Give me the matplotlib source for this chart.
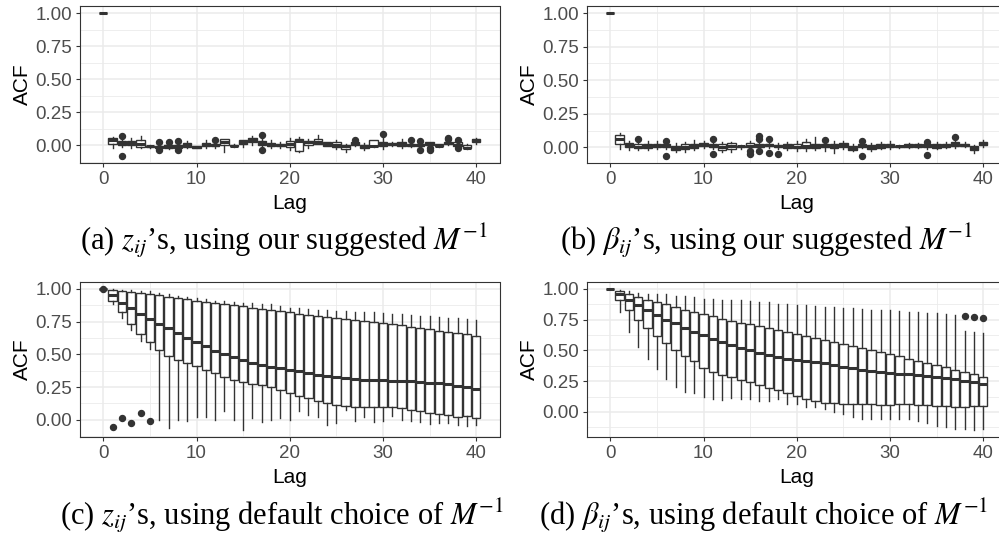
import matplotlib

matplotlib.use("Agg")

import matplotlib.pyplot as plt
from matplotlib.ticker import FixedLocator

plt.rcParams["font.family"] = ["Liberation Sans", "DejaVu Sans"]
plt.rcParams["mathtext.fontset"] = "stix"

LAGS = list(range(41))

# (a) z_ij, suggested M^-1
A_Q1 = [1, .01, .0, .0, -.015, -.015, -.02, -.02, -.02, -.015, -.02, -.01, -.005, .0, -.01, .005, .02, .0, -.005, -.005,
        -.015, -.045, .0, .01, -.005, -.015, -.03, .0, -.025, -.01, -.005, .0, -.01, -.005, -.01, .0, -.01, .005, -.01, -.025, .025]
A_MED = [1, .035, .015, .015, .01, -.01, -.012, -.01, -.01, .0, -.015, .0, .0, .02, -.005, .02, .04, .015, .0, -.002,
         .005, .03, .02, .02, .008, .0, -.01, .005, -.01, -.005, .01, .005, .01, .0, .0, .01, -.005, .015, .0, -.02, .035]
A_Q3 = [1, .055, .03, .03, .04, -.008, -.005, .0, .0, .015, -.01, .012, .005, .045, .0, .035, .055, .03, .015, .005,
        .03, .045, .03, .045, .02, .02, .0, .02, .0, .035, .025, .015, .025, .01, .01, .02, .005, .025, .02, .0, .045]
A_LO = [1, -.02, -.015, -.02, -.02, -.02, -.03, -.03, -.035, -.025, -.025, -.025, -.02, -.055, -.015, -.015, .0, -.01, -.025, -.02,
        -.04, -.05, -.025, .01, -.01, -.03, -.055, -.005, -.04, -.015, -.03, -.005, -.025, -.015, -.02, -.005, -.015, .0, -.02, -.03, .01]
A_HI = [1, .06, .045, .05, .065, -.003, .005, .01, .01, .03, -.005, .035, .01, .045, .005, .04, .07, .05, .035, .02,
        .055, .06, .045, .075, .025, .04, .01, .025, .015, .04, .05, .02, .045, .02, .02, .025, .01, .03, .03, .005, .05]
A_FLIERS = {2: [.07, -.082], 6: [.022, -.035], 7: [.025], 8: [.03, -.035], 12: [.038], 17: [.075, -.04],
            27: [.04], 30: [.087], 33: [.038], 34: [.03, -.035], 35: [-.02, -.035], 37: [.055, .045], 38: [.035, -.02]}

# (b) beta_ij, suggested M^-1
B_Q1 = [1, .025, .005, -.005, -.003, .003, .003, -.018, -.013, -.008, .008, .003, -.018, -.013, .0, .003, .005, .008, .003, -.003,
        -.008, -.008, -.008, .003, -.008, .003, -.023, .003, -.013, -.008, .003, .003, .003, .003, .003, -.003, .003, .008, .008, -.018, .018]
B_MED = [1, .06, .015, .005, .013, .013, .008, -.005, .003, .008, .02, .013, .003, .008, .008, .013, .013, .015, .008, .008,
         .003, .013, .008, .013, .008, .018, -.003, .01, .003, .008, .013, .008, .013, .013, .013, .013, .013, .023, .018, -.003, .028]
B_Q3 = [1, .09, .03, .025, .023, .028, .023, .013, .023, .023, .033, .023, .023, .033, .013, .03, .028, .028, .018, .023,
        .028, .043, .028, .023, .028, .033, .013, .023, .018, .023, .028, .013, .023, .023, .023, .028, .028, .038, .028, .008, .043]
B_LO = [1, -.01, -.02, -.018, -.018, -.013, -.01, -.038, -.033, -.018, -.008, -.01, -.035, -.038, -.01, -.02, -.01, -.005, -.013, -.018,
        -.03, -.03, -.02, -.028, -.04, -.01, -.03, -.005, -.028, -.015, -.01, -.003, -.008, -.005, -.013, -.01, -.003, -.003, .0, -.04, .005]
B_HI = [1, .11, .05, .04, .048, .048, .04, .033, .038, .053, .048, .035, .038, .043, .02, .045, .04, .04, .035, .04,
        .05, .06, .08, .04, .045, .045, .025, .035, .03, .04, .045, .02, .03, .03, .035, .04, .038, .05, .04, .015, .055]
B_FLIERS = {3: [.06], 6: [.05, -.064], 11: [.065, -.048], 15: [-.03, -.048], 16: [.085, .06, -.028], 17: [.06, -.045],
            18: [-.048], 23: [.053], 27: [.05, -.064], 34: [.04, -.055], 37: [.075]}

# (c) z_ij, default M^-1
C_Q1 = [1, .91, .82, .73, .655, .59, .535, .49, .46, .434, .41, .38, .357, .33, .306, .286, .273, .263, .247, .23,
        .204, .18, .163, .145, .13, .115, .105, .094, .094, .097, .10, .10, .09, .077, .069, .05, .043, .036, .023, .03, .015]
C_MED = [1, .95, .895, .85, .81, .77, .73, .697, .66, .622, .59, .56, .528, .505, .48, .457, .434, .418, .403, .393,
         .383, .37, .355, .344, .334, .324, .316, .309, .304, .301, .30, .298, .296, .293, .288, .283, .278, .27, .258, .247, .232]
C_Q3 = [1, .99, .98, .975, .97, .96, .95, .94, .93, .92, .91, .90, .895, .885, .875, .867, .852, .844, .837, .827,
        .82, .81, .80, .793, .786, .778, .768, .76, .755, .745, .737, .73, .72, .71, .70, .69, .68, .673, .663, .653, .64]
C_LO = [1, .885, .78, .686, .605, .54, -.005, -.064, .0, -.013, .02, .018, .0, .064, .0, -.08, .01, -.02, .0, .013,
        .0, .07, .04, .023, -.04, -.026, .074, -.013, .018, -.015, -.008, .028, .0, -.013, -.02, -.033, -.028, -.028, -.043, -.048, -.038]
C_HI = [1, .995, .99, .99, .985, .98, .965, .96, .945, .94, .93, .92, .91, .905, .90, .895, .89, .885, .88, .87,
        .857, .85, .845, .84, .835, .83, .83, .825, .82, .82, .815, .81, .805, .80, .795, .79, .785, .78, .775, .77, .763]
C_FLIERS = {0: [1.0], 1: [-.054], 2: [.015], 3: [-.028], 4: [.048], 5: [-.008]}

# (d) beta_ij, default M^-1
D_Q1 = [1, .905, .83, .748, .68, .618, .56, .507, .455, .41, .358, .322, .30, .28, .26, .24, .22, .198, .176, .154,
        .127, .106, .092, .073, .07, .065, .065, .065, .062, .06, .06, .062, .062, .057, .054, .05, .046, .038, .043, .05, .05]
D_MED = [1, .954, .91, .865, .827, .79, .75, .72, .683, .653, .626, .596, .572, .547, .52, .50, .482, .463, .444, .43,
         .423, .415, .406, .396, .382, .369, .358, .344, .336, .325, .32, .312, .306, .298, .293, .282, .276, .266, .255, .244, .228]
D_Q3 = [1, .98, .957, .935, .91, .89, .873, .854, .83, .81, .794, .775, .756, .737, .724, .715, .70, .683, .667, .65,
        .634, .618, .60, .585, .57, .553, .537, .52, .504, .488, .47, .455, .434, .417, .40, .382, .363, .344, .328, .309, .287]
D_LO = [1, .81, .648, .526, .43, .347, .266, .20, .165, .154, .12, .105, .10, .11, .108, .108, .087, .092, .106, .065,
        .065, .043, .038, .022, -.003, -.02, -.043, -.054, -.06, -.06, -.06, -.06, -.06, -.076, -.087, -.114, -.125, -.138, -.141, -.148, -.141]
D_HI = [1, .99, .985, .965, .96, .96, .955, .945, .94, .935, .92, .915, .91, .91, .905, .90, .895, .89, .88, .875,
        .867, .867, .86, .85, .85, .846, .84, .835, .83, .824, .824, .82, .815, .81, .805, .80, .795, .79, .656, .65, .645]
D_FLIERS = {38: [.783], 39: [.77], 40: [.764]}

X_TICKS = [0, 10, 20, 30, 40]
Y_TICKS = [0.0, 0.25, 0.5, 0.75, 1.0]
Y_TICKLABELS = ["0.00", "0.25", "0.50", "0.75", "1.00"]

CAPTIONS = [
    r"(a) $z_{ij}$’s, using our suggested $M^{-1}$",
    r"(b) $\beta_{ij}$’s, using our suggested $M^{-1}$",
    r"(c) $z_{ij}$’s, using default choice of $M^{-1}$",
    r"(d) $\beta_{ij}$’s, using default choice of $M^{-1}$",
]

INK = "#333333"
GRID = "#EBEBEB"
W, H = 999, 546


def px_axes(fig, left, top, right, bottom):
    return fig.add_axes([left / W, 1 - bottom / H, (right - left) / W, (bottom - top) / H])


def draw_panel(ax, q1, med, q3, lo, hi, fliers):
    stats = []
    for i, lag in enumerate(LAGS):
        stats.append(dict(q1=q1[i], med=med[i], q3=q3[i], whislo=lo[i], whishi=hi[i],
                          fliers=fliers.get(lag, [])))
    ax.bxp(stats, positions=LAGS, widths=0.9, patch_artist=True, showcaps=False,
           manage_ticks=False,
           boxprops=dict(facecolor="white", edgecolor=INK, linewidth=1.0),
           medianprops=dict(color=INK, linewidth=2.2, solid_capstyle="butt"),
           whiskerprops=dict(color=INK, linewidth=1.0),
           flierprops=dict(marker="o", markerfacecolor=INK, markeredgecolor=INK, markersize=4.3))

    # ggplot-style limits: 5% padding around the data range
    ymin = min(lo + [v for vs in fliers.values() for v in vs])
    ymax = max(hi + [v for vs in fliers.values() for v in vs])
    pad = 0.05 * (ymax - ymin)
    ax.set_ylim(ymin - pad, ymax + pad)
    xpad = 0.05 * (LAGS[-1] - LAGS[0] + 0.9)
    ax.set_xlim(LAGS[0] - 0.45 - xpad, LAGS[-1] + 0.45 + xpad)

    ax.xaxis.set_major_locator(FixedLocator(X_TICKS))
    ax.xaxis.set_minor_locator(FixedLocator([5, 15, 25, 35]))
    ax.set_xticklabels([str(t) for t in X_TICKS])
    ax.yaxis.set_major_locator(FixedLocator(Y_TICKS))
    ax.yaxis.set_minor_locator(FixedLocator([-0.125, 0.125, 0.375, 0.625, 0.875]))
    ax.set_yticklabels(Y_TICKLABELS)
    ax.grid(which="major", color=GRID, linewidth=1.1)
    ax.grid(which="minor", color=GRID, linewidth=0.6)
    ax.set_axisbelow(True)
    ax.tick_params(which="major", length=3.2, width=0.8, color=INK, labelcolor="#4D4D4D",
                   labelsize=13.5, pad=2.5)
    ax.tick_params(which="minor", length=0)
    for sp in ax.spines.values():
        sp.set_color(INK)
        sp.set_linewidth(0.8)

    ax.set_xlabel("Lag", fontsize=15)
    ax.set_ylabel("ACF", fontsize=15)
    ax.xaxis.set_label_coords(0.5, -0.2)
    ax.yaxis.set_label_coords(-0.115, 0.5)


fig = plt.figure(figsize=(W / 100, H / 100), dpi=100)

panels = [
    (px_axes(fig, 80, 6, 499.5, 163), A_Q1, A_MED, A_Q3, A_LO, A_HI, A_FLIERS),
    (px_axes(fig, 587, 6, 1006.5, 163), B_Q1, B_MED, B_Q3, B_LO, B_HI, B_FLIERS),
    (px_axes(fig, 80, 281.7, 499.5, 437.3), C_Q1, C_MED, C_Q3, C_LO, C_HI, C_FLIERS),
    (px_axes(fig, 587, 281.7, 1006.5, 437.3), D_Q1, D_MED, D_Q3, D_LO, D_HI, D_FLIERS),
]
for ax, *vals in panels:
    draw_panel(ax, *vals)

caption_pos = [(284, 250), (766, 250), (282, 525), (764, 525)]
for (cx, cy), text in zip(caption_pos, CAPTIONS):
    fig.text(cx / W, 1 - cy / H, text, ha="center", va="baseline", fontsize=22,
             family=["Liberation Serif", "DejaVu Serif"])

fig.savefig("out.png", dpi=100)
